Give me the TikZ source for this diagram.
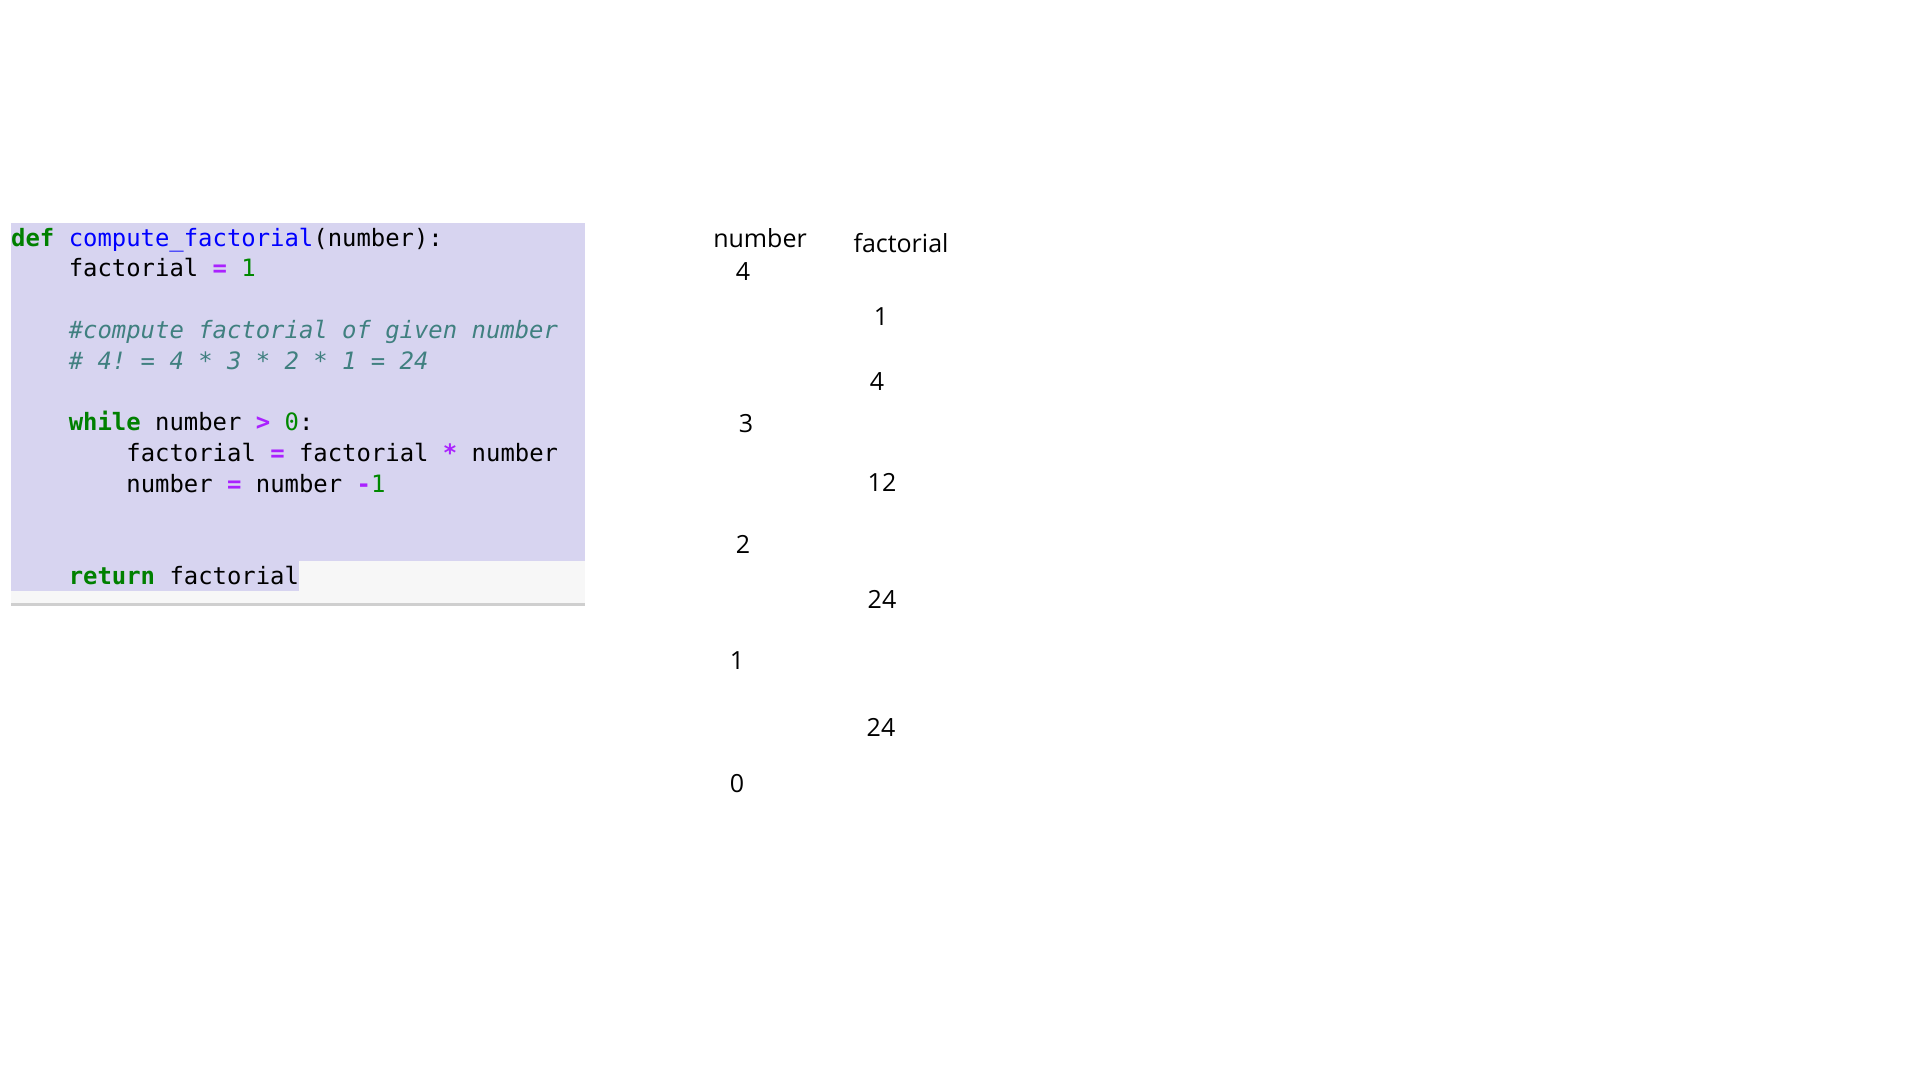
\documentclass[tikz,border=0pt]{standalone}
\usepackage{fontspec}
\setmonofont{DejaVu Sans Mono}
\setsansfont{Open Sans}
\usepackage{tikz}

\definecolor{selbg}{HTML}{D7D4F0}
\definecolor{cellbg}{HTML}{F7F7F7}
\definecolor{cellline}{HTML}{CFCFCF}
\definecolor{pykwc}{HTML}{008000}
\definecolor{pyfnc}{HTML}{0000FF}
\definecolor{pyopc}{HTML}{AA22FF}
\definecolor{pynumc}{HTML}{008800}
\definecolor{pycomc}{HTML}{408080}
\newcommand{\pykw}[1]{\textcolor{pykwc}{\bfseries #1}}
\newcommand{\pyfn}[1]{\textcolor{pyfnc}{#1}}
\newcommand{\pyop}[1]{\textcolor{pyopc}{\bfseries #1}}
\newcommand{\pynum}[1]{\textcolor{pynumc}{#1}}
\newcommand{\pycom}[1]{\textcolor{pycomc}{\itshape #1}}

\begin{document}
\begin{tikzpicture}[x=1pt,y=-1pt,
  code/.style={anchor=base west,inner sep=0pt,font=\ttfamily\fontsize{23.9}{30}\selectfont},
  head/.style={anchor=base,inner sep=0pt,font=\sffamily\fontsize{25}{30}\selectfont},
  val/.style={inner sep=0pt,font=\sffamily\fontsize{25}{30}\selectfont}]
  \useasboundingbox (0,0) rectangle (1920,1080);
  % code cell
  \fill[cellbg] (11,223) rectangle (585,604);
  \fill[selbg] (11,223) rectangle (585,561);
  \fill[selbg] (11,561) rectangle (299,591);
  \draw[cellline,line width=2.4pt] (11,604.5) -- (585,604.5);
  \node[code] (l0) at (11,246) {\pykw{def} \pyfn{compute\_factorial}(number):};
  \node[code] (l1) at (68.6,276.8) {factorial \pyop{=} \pynum{1}};
  \node[code] (l3) at (68.6,338.4) {\pycom{\#compute factorial of given number}};
  \node[code] (l4) at (68.6,369.2) {\pycom{\# 4! = 4 * 3 * 2 * 1 = 24}};
  \node[code] (l6) at (68.6,430.8) {\pykw{while} number \pyop{>} \pynum{0}:};
  \node[code] (l7) at (126.2,461.6) {factorial \pyop{=} factorial \pyop{*} number};
  \node[code] (l8) at (126.2,492.4) {number \pyop{=} number \pyop{-}\pynum{1}};
  \node[code] (l11) at (68.6,584.8) {\pykw{return} factorial};
  % trace table
  \node[head] (numhead) at (760,247) {number};
  \node[head] (facthead) at (901,252) {factorial};
  \node[val] (n4) at (743,272) {4};
  \node[val] (f1) at (881,317) {1};
  \node[val] (f4) at (877,382) {4};
  \node[val] (n3) at (746,424) {3};
  \node[val] (f12) at (882,482) {12};
  \node[val] (n2) at (743,544) {2};
  \node[val] (f24a) at (882,599) {24};
  \node[val] (n1) at (737,661) {1};
  \node[val] (f24b) at (881,727) {24};
  \node[val] (n0) at (737,784) {0};
\end{tikzpicture}
\end{document}
